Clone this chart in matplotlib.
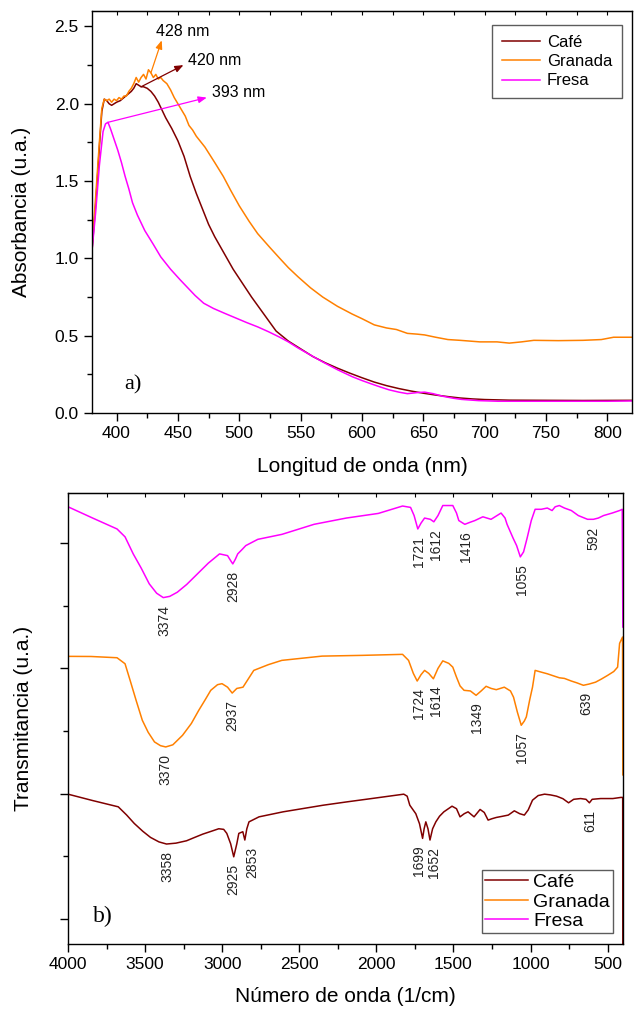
import numpy as np
import matplotlib.pyplot as plt
from matplotlib.ticker import MultipleLocator, NullFormatter

plt.rcParams['font.family'] = ['Liberation Sans', 'DejaVu Sans']

# ---- UV-Vis (panel a) ----
wl_cafe = [380, 383, 386, 388, 390, 392, 394, 396, 398, 400, 403, 406, 409, 412, 414, 416, 418,
           420, 422, 425, 428, 431, 434, 437, 440, 445, 450, 455, 460, 465, 470, 475, 480, 485,
           490, 495, 500, 510, 520, 530, 540, 550, 560, 570, 580, 590, 600, 610, 620, 630, 640,
           650, 660, 670, 680, 690, 700, 720, 750, 780, 820]
abs_cafe = [1.05, 1.35, 1.72, 1.95, 2.03, 2.02, 2.00, 1.99, 2.00, 2.01, 2.02, 2.04, 2.06, 2.08, 2.10,
            2.13, 2.12, 2.11, 2.11, 2.10, 2.08, 2.05, 2.01, 1.96, 1.91, 1.84, 1.76, 1.66, 1.53,
            1.42, 1.32, 1.22, 1.14, 1.07, 1.00, 0.93, 0.87, 0.75, 0.64, 0.53, 0.465, 0.415, 0.365,
            0.325, 0.29, 0.258, 0.228, 0.20, 0.177, 0.158, 0.142, 0.128, 0.116, 0.106, 0.097,
            0.091, 0.087, 0.083, 0.082, 0.081, 0.082]

wl_granada = [380, 383, 386, 388, 390, 392, 394, 396, 398, 400, 402, 404, 406, 408, 410, 412, 414,
              416, 418, 420, 422, 424, 426, 428, 430, 432, 434, 436, 438, 441, 444, 447, 450, 453,
              456, 459, 462, 465, 468, 472, 476, 480, 487, 493, 500, 508, 515, 525, 533, 540, 548,
              558, 568, 580, 592, 600, 610, 620, 628, 637, 645, 651, 660, 670, 680, 696, 710, 720,
              730, 740, 760, 780, 795, 805, 820]
abs_granada = [1.08, 1.40, 1.75, 1.97, 2.03, 2.02, 2.03, 2.01, 2.03, 2.02, 2.04, 2.03, 2.05, 2.05,
               2.08, 2.10, 2.13, 2.17, 2.14, 2.17, 2.19, 2.16, 2.22, 2.20, 2.17, 2.19, 2.16, 2.17,
               2.15, 2.13, 2.09, 2.04, 2.00, 1.96, 1.92, 1.86, 1.83, 1.79, 1.76, 1.72, 1.67, 1.62,
               1.53, 1.44, 1.34, 1.24, 1.16, 1.07, 1.00, 0.94, 0.88, 0.81, 0.75, 0.69, 0.64, 0.61,
               0.57, 0.55, 0.54, 0.515, 0.51, 0.505, 0.49, 0.475, 0.47, 0.46, 0.46, 0.452, 0.46,
               0.47, 0.468, 0.47, 0.475, 0.49, 0.49]

wl_fresa = [380, 383, 386, 389, 391, 393, 395, 398, 401, 404, 407, 410, 413, 417, 423, 430, 436,
            444, 452, 458, 464, 471, 479, 488, 497, 506, 515, 524, 533, 540, 548, 558, 568, 580,
            592, 600, 607, 615, 622, 630, 637, 645, 651, 658, 666, 674, 681, 695, 711, 750, 800, 820]
abs_fresa = [1.05, 1.30, 1.60, 1.82, 1.87, 1.88, 1.84, 1.77, 1.70, 1.62, 1.53, 1.45, 1.36, 1.28,
             1.18, 1.09, 1.01, 0.93, 0.86, 0.81, 0.76, 0.71, 0.676, 0.645, 0.615, 0.585, 0.557,
             0.525, 0.49, 0.46, 0.42, 0.375, 0.33, 0.28, 0.235, 0.21, 0.19, 0.168, 0.15, 0.135,
             0.125, 0.132, 0.135, 0.125, 0.108, 0.096, 0.088, 0.080, 0.076, 0.076, 0.076, 0.078]

uv_peaks = [428, 420, 393]  # granada, cafe, fresa

# ---- FTIR (panel b), curves already stacked ----
wn_fresa = [4000, 3840, 3682, 3630, 3577, 3525, 3473, 3425, 3382, 3340, 3291, 3230, 3160, 3090,
            3017, 2965, 2945, 2931, 2915, 2899, 2870, 2847, 2769, 2612, 2404, 2195, 1987, 1830,
            1778, 1755, 1731, 1710, 1687, 1650, 1627, 1600, 1569, 1504, 1480, 1465, 1426, 1395,
            1361, 1309, 1256, 1191, 1165, 1152, 1113, 1090, 1066, 1045, 1022, 995, 970, 930, 891,
            860, 840, 813, 780, 735, 690, 630, 592, 560, 526, 470, 422, 405, 401]
t_fresa = [3.29, 3.20, 3.113, 3.05, 2.914, 2.80, 2.675, 2.60, 2.565, 2.575, 2.608, 2.67, 2.755,
           2.84, 2.914, 2.90, 2.86, 2.834, 2.87, 2.914, 2.95, 2.98, 3.03, 3.07, 3.15, 3.20, 3.237,
           3.296, 3.285, 3.22, 3.113, 3.16, 3.20, 3.19, 3.17, 3.22, 3.30, 3.30, 3.24, 3.18, 3.15,
           3.165, 3.18, 3.21, 3.19, 3.24, 3.20, 3.15, 3.04, 2.98, 2.89, 2.93, 3.04, 3.18, 3.27,
           3.27, 3.28, 3.26, 3.29, 3.30, 3.28, 3.26, 3.22, 3.19, 3.19, 3.20, 3.22, 3.24, 3.26,
           3.27, 2.33]

wn_granada = [4000, 3850, 3682, 3630, 3596, 3557, 3518, 3480, 3439, 3400, 3366, 3320, 3257, 3200,
              3152, 3110, 3074, 3030, 3001, 2965, 2935, 2905, 2865, 2795, 2700, 2613, 2352, 2091,
              1830, 1791, 1760, 1735, 1710, 1687, 1660, 1630, 1600, 1569, 1530, 1504, 1480, 1457,
              1431, 1390, 1353, 1320, 1288, 1255, 1222, 1170, 1130, 1110, 1085, 1060, 1040, 1027,
              1005, 987, 970, 930, 891, 850, 813, 780, 735, 700, 657, 620, 578, 540, 500, 460, 435,
              422, 403, 401]
t_granada = [2.096, 2.095, 2.085, 2.037, 1.90, 1.74, 1.586, 1.49, 1.413, 1.383, 1.373, 1.39, 1.466,
             1.56, 1.665, 1.75, 1.825, 1.87, 1.878, 1.85, 1.803, 1.84, 1.85, 1.984, 2.03, 2.064,
             2.098, 2.104, 2.112, 2.064, 1.96, 1.899, 1.95, 1.984, 1.96, 1.917, 2.00, 2.06, 2.04,
             2.01, 1.93, 1.86, 1.825, 1.82, 1.785, 1.82, 1.857, 1.84, 1.83, 1.85, 1.82, 1.77, 1.65,
             1.546, 1.58, 1.613, 1.75, 1.85, 1.984, 1.97, 1.957, 1.94, 1.925, 1.92, 1.899, 1.885,
             1.865, 1.875, 1.89, 1.915, 1.944, 1.975, 2.01, 2.20, 2.25, 1.15]

wn_cafe = [4000, 3840, 3674, 3620, 3570, 3515, 3465, 3410, 3361, 3300, 3231, 3180, 3126, 3070,
           3022, 2990, 2970, 2945, 2925, 2905, 2892, 2866, 2853, 2840, 2826, 2761, 2605, 2344,
           2188, 2031, 1822, 1800, 1783, 1744, 1720, 1700, 1690, 1679, 1665, 1652, 1635, 1614,
           1590, 1562, 1509, 1480, 1457, 1430, 1405, 1366, 1327, 1300, 1275, 1250, 1222, 1180,
           1144, 1105, 1070, 1040, 1015, 987, 950, 909, 870, 831, 790, 753, 720, 675, 640, 618,
           600, 545, 466, 414, 402, 401]
t_cafe = [0.996, 0.945, 0.895, 0.83, 0.762, 0.70, 0.651, 0.615, 0.598, 0.605, 0.624, 0.65, 0.677,
          0.70, 0.72, 0.715, 0.683, 0.60, 0.496, 0.60, 0.683, 0.696, 0.63, 0.72, 0.775, 0.815,
          0.855, 0.908, 0.935, 0.961, 0.996, 0.98, 0.908, 0.84, 0.76, 0.643, 0.72, 0.775, 0.72,
          0.63, 0.72, 0.775, 0.82, 0.855, 0.90, 0.88, 0.815, 0.84, 0.855, 0.815, 0.874, 0.85,
          0.789, 0.80, 0.81, 0.82, 0.829, 0.863, 0.84, 0.829, 0.87, 0.948, 0.985, 0.996, 0.99,
          0.98, 0.96, 0.927, 0.955, 0.961, 0.955, 0.927, 0.955, 0.961, 0.961, 0.97, 0.97, -0.4]

peaks_fresa = [3374, 2928, 1721, 1612, 1416, 1055, 592]
peaks_granada = [3370, 2937, 1724, 1614, 1349, 1057, 639]
peaks_cafe = [3358, 2925, 2853, 1699, 1652, 611]

c_cafe = '#800000'
c_granada = '#FF8000'
c_fresa = '#FF00FF'

fig = plt.figure(figsize=(6.34, 10.09), dpi=100)
W, H = 634, 1009


def box(l, t, r, b):
    return [l / W, 1 - b / H, (r - l) / W, (b - t) / H]


def style(ax):
    for s in ax.spines.values():
        s.set_linewidth(1.0)
    ax.tick_params(which='major', direction='out', length=6, width=1.0, labelsize=12.5)
    ax.tick_params(which='minor', direction='out', length=3.5, width=1.0)


# ---------- panel a ----------
ax1 = fig.add_axes(box(92, 11, 632, 413))
ax1.plot(wl_cafe, abs_cafe, color=c_cafe, lw=1.1, label='Café')
ax1.plot(wl_granada, abs_granada, color=c_granada, lw=1.1, label='Granada')
ax1.plot(wl_fresa, abs_fresa, color=c_fresa, lw=1.1, label='Fresa')
ax1.set_xlim(380, 820)
ax1.set_ylim(0, 2.6)
ax1.xaxis.set_major_locator(MultipleLocator(50))
ax1.xaxis.set_minor_locator(MultipleLocator(25))
ax1.yaxis.set_major_locator(MultipleLocator(0.5))
ax1.yaxis.set_minor_locator(MultipleLocator(0.25))
ax1.yaxis.set_major_formatter(lambda v, p: f'{v:.1f}')
style(ax1)
top1 = ax1.secondary_xaxis('top')
top1.xaxis.set_major_locator(MultipleLocator(25))
top1.tick_params(direction='in', length=3, labeltop=False)
ax1.set_xlabel('Longitud de onda (nm)', fontsize=15, va='center')
ax1.xaxis.set_label_coords(0.5, (413 - 467) / 402)
ax1.set_ylabel('Absorbancia (u.a.)', fontsize=15, va='center')
ax1.yaxis.set_label_coords((21 - 92) / 540, 0.5)

# peak arrows
arrow_cfg = [  # (curve x, curve y, colour, head, text pos)
    (wl_granada, abs_granada, c_granada, (436.8, 2.41), (432.5, 2.47)),
    (wl_cafe, abs_cafe, c_cafe, (454.5, 2.25), (458, 2.28)),
    (wl_fresa, abs_fresa, c_fresa, (473.5, 2.04), (477.5, 2.07)),
]
for pk, (xs, ys, col, head, tpos) in zip(uv_peaks, arrow_cfg):
    y0 = np.interp(pk, xs, ys)
    ax1.annotate('', xy=head, xytext=(pk, y0),
                 arrowprops=dict(arrowstyle='-|>,head_length=0.5,head_width=0.2',
                                 color=col, lw=0.9, shrinkA=0, shrinkB=0))
    ax1.text(tpos[0], tpos[1], f'{pk} nm', fontsize=11.5, va='center', ha='left')

ax1.text(0.06, 0.07, 'a)', transform=ax1.transAxes, fontsize=16,
         family='Liberation Serif', va='center')
leg1 = ax1.legend(loc='upper right', bbox_to_anchor=((622 - 92) / 540, (413 - 25) / 402),
                  fontsize=12, frameon=True, fancybox=False, edgecolor='#333333',
                  handlelength=2.3, handletextpad=0.4, labelspacing=0.25,
                  borderpad=0.6, borderaxespad=0)
leg1.get_frame().set_linewidth(1.0)

# ---------- panel b ----------
ax2 = fig.add_axes(box(68, 493, 623, 944))
ax2.plot(wn_cafe, t_cafe, color=c_cafe, lw=1.1, label='Café')
ax2.plot(wn_granada, t_granada, color=c_granada, lw=1.1, label='Granada')
ax2.plot(wn_fresa, t_fresa, color=c_fresa, lw=1.1, label='Fresa')
ax2.set_xlim(4000, 400)
ax2.set_ylim(-0.2, 3.4)
ax2.xaxis.set_major_locator(MultipleLocator(500))
ax2.xaxis.set_minor_locator(MultipleLocator(250))
ax2.yaxis.set_major_locator(MultipleLocator(1))
ax2.yaxis.set_minor_locator(MultipleLocator(0.5))
ax2.yaxis.set_major_formatter(NullFormatter())
style(ax2)
top2 = ax2.secondary_xaxis('top')
top2.xaxis.set_major_locator(MultipleLocator(250))
top2.tick_params(direction='in', length=3, labeltop=False)
ax2.set_xlabel('Número de onda (1/cm)', fontsize=15, va='center')
ax2.xaxis.set_label_coords(0.5, (944 - 997) / 451)
ax2.set_ylabel('Transmitancia (u.a.)', fontsize=15, va='center')
ax2.yaxis.set_label_coords((24 - 68) / 555, 0.5)

nudge = {2853: 5, 1699: -3, 1652: 3}
fine = np.linspace(400, 4000, 7201)
for peaks, xs, ys in [(peaks_fresa, wn_fresa, t_fresa),
                      (peaks_granada, wn_granada, t_granada),
                      (peaks_cafe, wn_cafe, t_cafe)]:
    curve = np.interp(fine, xs[::-1], ys[::-1])
    for pk in peaks:
        win = (fine > pk - 30) & (fine < pk + 30)
        ymin = curve[win].min()
        ax2.annotate(str(pk), xy=(pk, ymin), xytext=(nudge.get(pk, 0), -5),
                     textcoords='offset points', rotation=90, ha='center', va='top',
                     fontsize=10, color='#222222')

ax2.text(0.045, 0.06, 'b)', transform=ax2.transAxes, fontsize=17,
         family='Liberation Serif', va='center')
leg2 = ax2.legend(loc='lower right', bbox_to_anchor=((613 - 68) / 555, (944 - 933) / 451),
                  fontsize=14, frameon=True, fancybox=False, edgecolor='#333333',
                  handlelength=2.2, handletextpad=0.3, labelspacing=0.1,
                  borderpad=0.15, borderaxespad=0)
leg2.get_frame().set_linewidth(1.0)

fig.savefig('out.png', dpi=100)
